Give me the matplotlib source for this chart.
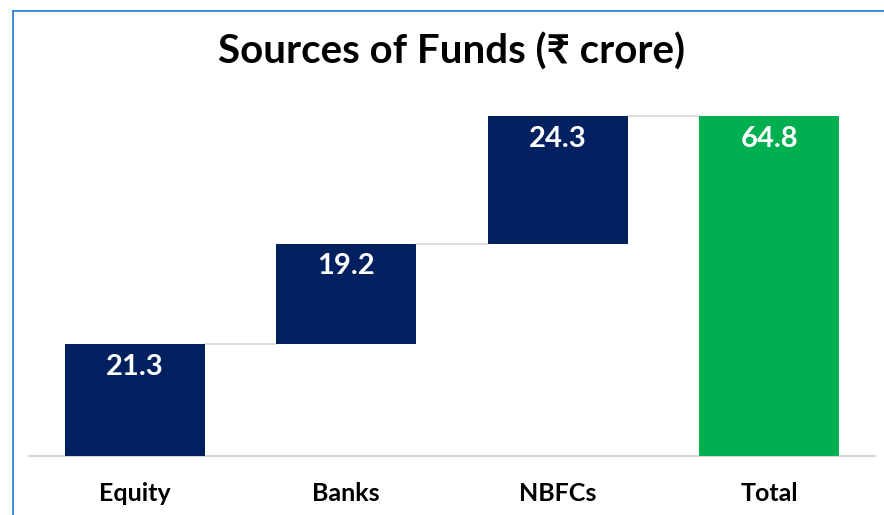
import matplotlib
matplotlib.use('Agg')
import matplotlib.pyplot as plt
import numpy as np

plt.rcParams['font.family'] = ['Lato', 'DejaVu Sans']

# data
categories = ['Equity', 'Banks', 'NBFCs', 'Total']
values = [21.3, 19.2, 24.3, 64.8]
is_total = [False, False, False, True]

navy = '#002060'
green = '#00B050'
grey = '#d9d9d9'

fig = plt.figure(figsize=(8.84, 5.15), dpi=100)
ax = fig.add_axes([29/884, 0.1151, 846/884, 0.7122])

# waterfall bottoms
bottoms = []
running = 0
for v, t in zip(values, is_total):
    if t:
        bottoms.append(0)
    else:
        bottoms.append(running)
        running += v
tops = [b + v for b, v in zip(bottoms, values)]

x = np.arange(len(categories))
width = 0.662
colors = [green if t else navy for t in is_total]
ax.bar(x, values, bottom=bottoms, width=width, color=colors, zorder=3)

# connector lines
for i in range(len(categories) - 1):
    ax.plot([x[i] + width/2, x[i+1] - width/2], [tops[i], tops[i]],
            color=grey, lw=1.3, zorder=2)

# value labels
for xi, top, v in zip(x, tops, values):
    ax.annotate('%.1f' % v, (xi, top), xytext=(0, -7), textcoords='offset points',
                ha='center', va='top', color='white', fontsize=21, fontweight='bold')

ax.set_xlim(-0.5, 3.5)
ax.set_ylim(0, 70)
ax.set_xticks(x)
ax.set_xticklabels(categories, fontsize=18, fontweight='bold')
ax.tick_params(axis='x', length=0, pad=19)
ax.set_yticks([])
for s in ['top', 'right', 'left']:
    ax.spines[s].set_visible(False)
ax.spines['bottom'].set_color(grey)
ax.spines['bottom'].set_linewidth(1.5)

fig.text(452/884, 1 - 52/515, 'Sources of Funds (₹ crore)', ha='center', va='center',
         fontsize=29, fontweight='bold')

# chart border (partly cropped)
fig.add_artist(plt.Line2D([12.5/884, 12.5/884], [0, 1 - 10.5/515], color='#1f7ad6', lw=1.2))
fig.add_artist(plt.Line2D([12.5/884, 1], [1 - 10.5/515, 1 - 10.5/515], color='#1f7ad6', lw=1.2))

plt.savefig('out.png', dpi=100)
